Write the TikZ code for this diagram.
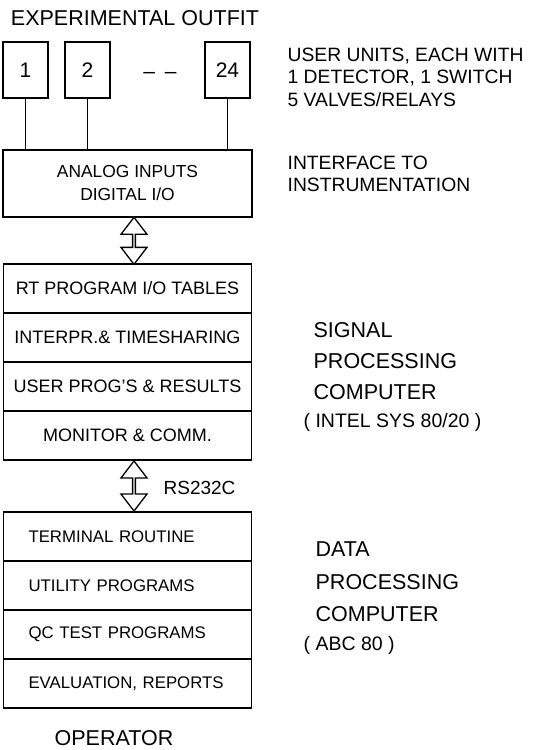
\documentclass[tikz,border=0pt]{standalone}
\usepackage{fontspec}
\setmainfont{Liberation Sans}
\usetikzlibrary{positioning, shapes.arrows, calc}

\tikzset{
  unitbox/.style={draw, line width=1.3pt, minimum width=45pt, minimum height=56pt, inner sep=0pt, font=\fontsize{21}{25}\selectfont},
  layer/.style={draw, line width=1.3pt, outer sep=0pt, minimum width=248pt, minimum height=49pt, inner sep=0pt, font=\fontsize{18}{22}\selectfont},
  datalayer/.style={layer, font=\fontsize{16.8}{21}\selectfont, text width=198pt, inner xsep=25pt, align=left},
  hollowlink/.style={double arrow, draw, line width=1.3pt, rotate=90, inner sep=0pt, minimum width=26pt, double arrow head extend=5.5pt, double arrow tip angle=75},
  sidenote/.style={anchor=west, align=left, inner xsep=0pt, font=\fontsize{19.3}{22.5}\selectfont},
  sidetitle/.style={anchor=west, align=left, inner xsep=0pt, font=\fontsize{21.5}{31}\selectfont},
}

\begin{document}
\begin{tikzpicture}[x=1pt, y=-1pt, line width=1.3pt, node distance=0pt]
  \useasboundingbox (0,0) rectangle (551,750);
  % experimental outfit: user units and interface
  \node[font=\fontsize{21.5}{26}\selectfont] (outfit) at (135,18) {EXPERIMENTAL OUTFIT};
  \node[unitbox] (u1) at (25.5,70) {1};
  \node[unitbox] (u2) at (87.5,70) {2};
  \node[unitbox] (u24) at (227.5,70) {24};
  \node[font=\fontsize{21}{25}\selectfont] (udots) at (160,75) {–\hspace{10pt}–};
  \node[draw, minimum width=249pt, minimum height=67pt, align=center, font=\fontsize{17.4}{23}\selectfont] (iface) at (127.5,183.5) {ANALOG INPUTS\\DIGITAL I/O};
  \foreach \n in {u1,u2,u24}
    \draw (\n.south) -- (\n.south |- iface.north);
  \node[sidenote] (unitnote) at (287,77) {USER UNITS, EACH WITH\\1 DETECTOR, 1 SWITCH\\5 VALVES/RELAYS};
  \node[sidenote] (ifnote) at (287,174) {INTERFACE TO\\INSTRUMENTATION};

  % signal processing computer
  \node[layer] (sp1) at (127.5,288.5) {RT PROGRAM I/O TABLES};
  \node[layer, below=of sp1] (sp2) {INTERPR.\& TIMESHARING};
  \node[layer, below=of sp2] (sp3) {USER PROG'S \& RESULTS};
  \node[layer, below=of sp3] (sp4) {MONITOR \& COMM.};
  \node[hollowlink, minimum height=47pt] (link1) at ($(iface.south)!.5!(sp1.north)+(6.5,0)$) {};
  \node[sidetitle] (sptitle) at (313,361) {SIGNAL\\PROCESSING\\COMPUTER};
  \node[sidenote, font=\fontsize{19.5}{23}\selectfont] (spmodel) at (303,422) {( INTEL SYS 80/20 )};

  % data processing computer
  \node[datalayer] (dp1) at (127.5,536.5) {TERMINAL ROUTINE};
  \node[datalayer, below=of dp1] (dp2) {UTILITY PROGRAMS};
  \node[datalayer, below=of dp2] (dp3) {QC TEST PROGRAMS};
  \node[datalayer, below=of dp3] (dp4) {EVALUATION, REPORTS};
  \node[hollowlink, minimum height=50pt] (link2) at ($(sp4.south)!.5!(dp1.north)+(6.5,0)$) {};
  \node[anchor=west, inner xsep=0pt, font=\fontsize{19}{23}\selectfont] (rs) at (163,488) {RS232C};
  \node[sidetitle, font=\fontsize{21.5}{32.5}\selectfont] (dptitle) at (315,582) {DATA\\PROCESSING\\COMPUTER};
  \node[sidenote, font=\fontsize{19.5}{23}\selectfont] (dpmodel) at (303,645) {( ABC 80 )};

  \node[font=\fontsize{21.5}{26}\selectfont] (operator) at (114,738) {OPERATOR};
\end{tikzpicture}
\end{document}
